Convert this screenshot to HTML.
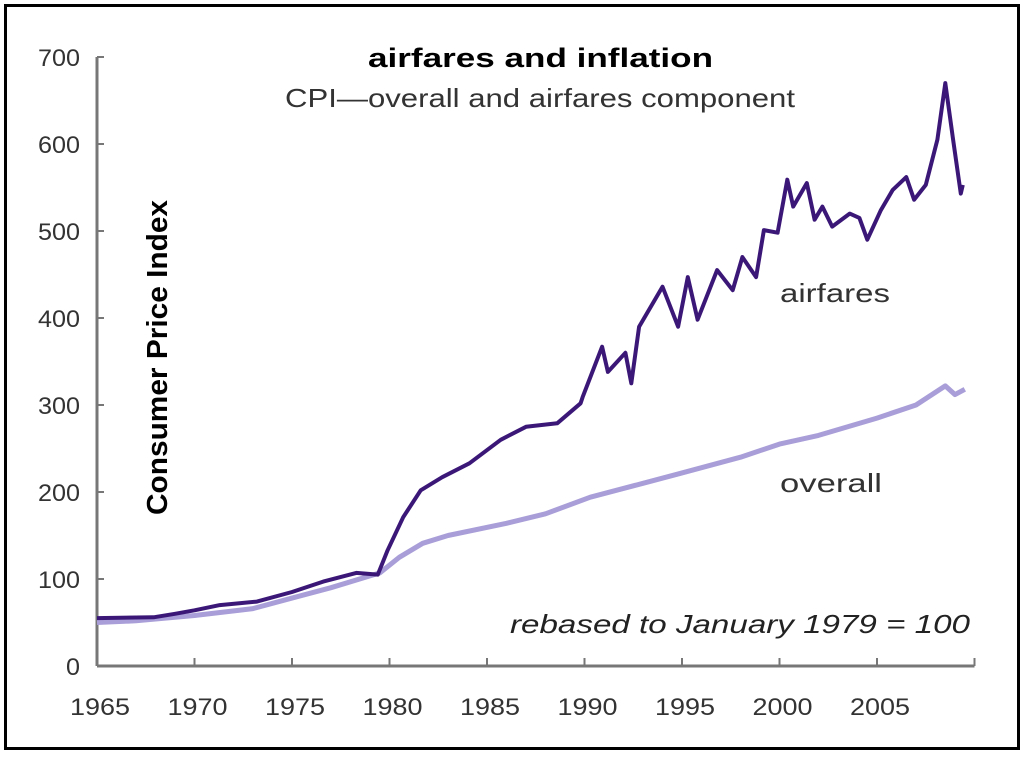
<!DOCTYPE html>
<html><head><meta charset="utf-8"><style>
body{margin:0;background:#fff;width:1024px;height:758px;overflow:hidden;font-family:"Liberation Sans",sans-serif}
#frame{position:absolute;left:4px;top:4px;width:1010px;height:740px;border:3px solid #000}
</style></head><body>
<div id="frame"></div>
<svg id="chart" width="1024" height="758" style="position:absolute;left:0;top:0">
<text x="368" y="67" textLength="345" lengthAdjust="spacingAndGlyphs" font-weight="bold" font-size="27" fill="#000">airfares and inflation</text>
<text x="285" y="107" textLength="510" lengthAdjust="spacingAndGlyphs" font-size="26" fill="#333">CPI—overall and airfares component</text>
<text transform="translate(167,515) rotate(-90)" textLength="315" lengthAdjust="spacingAndGlyphs" font-weight="bold" font-size="29" fill="#000">Consumer Price Index</text>
<text x="780" y="302" textLength="110" lengthAdjust="spacingAndGlyphs" font-size="26" fill="#333">airfares</text>
<text x="780" y="492" textLength="102" lengthAdjust="spacingAndGlyphs" font-size="26" fill="#333">overall</text>
<text x="510" y="633" textLength="460" lengthAdjust="spacingAndGlyphs" font-style="italic" font-size="26" fill="#222">rebased to January 1979 = 100</text>
<g id="axes"></g><g id="series"></g>
</svg>
<script>
const yTicks=[0,100,200,300,400,500,600,700];
const xTicks=[1965,1970,1975,1980,1985,1990,1995,2000,2005];
const airYears=[1965,1967.9,1969,1970,1971.3,1973.2,1975,1976.6,1978.3,1979.4,1979.9,1980.7,1981.6,1982.7,1984.1,1985.7,1987.0,1988.6,1989.8,1989.9,1990.9,1991.2,1992.1,1992.4,1992.8,1994.0,1994.8,1995.3,1995.8,1996.8,1997.6,1998.1,1998.8,1999.2,1999.9,2000.4,2000.7,2001.4,2001.8,2002.2,2002.7,2003.6,2004.1,2004.5,2005.2,2005.8,2006.5,2006.9,2007.5,2008.1,2008.5,2008.9,2009.3,2009.4];
const airVals=[55,56,60,64,70,74,85,97,107,105,133,171,202,217,233,260,275,279,302,309,367,338,360,325,390,436,390,447,398,455,432,470,447,501,498,559,528,555,513,528,505,520,515,490,524,547,562,536,553,605,670,605,543,553];
const allYears=[1965,1967,1970,1973,1975,1977,1979.5,1980.5,1981.7,1983,1986,1988,1990.3,1993,1995,1998,2000,2002,2005,2007,2008.5,2009,2009.5];
const allVals=[50,52,58,66,78,90,107,125,141,150,164,175,194,210,222,240,255,265,285,300,322,312,318];
const X=y=>97+(y-1965)*19.5, Y=v=>666-v*0.87;
const ns="http://www.w3.org/2000/svg";
const ax=document.getElementById('axes'), se=document.getElementById('series');
function mk(tag,attrs,parent){const e=document.createElementNS(ns,tag);for(const k in attrs)e.setAttribute(k,attrs[k]);parent.appendChild(e);return e;}
const yl=mk('line',{x1:X(1965),x2:X(1965),y1:Y(700),y2:Y(0),stroke:'#777','stroke-width':3},ax);


const xl=mk('line',{x1:X(1965),x2:X(2010),y1:Y(0),y2:Y(0),stroke:'#777','stroke-width':3},ax);


yTicks.forEach(v=>{
 mk('line',{x1:X(1965),x2:X(1965)+7,y1:Y(v),y2:Y(v),stroke:'#777','stroke-width':2},ax);
 const s=String(v);
 const t=mk('text',{x:80,y:Y(v)+9,'text-anchor':'end','font-size':24,fill:'#333',textLength:s.length*14,lengthAdjust:'spacingAndGlyphs'},ax);t.textContent=s;
 
 
});
xTicks.concat([2010]).forEach(v=>{mk('line',{x1:X(v),x2:X(v),y1:Y(0),y2:Y(0)-8,stroke:'#777','stroke-width':2},ax);});
xTicks.forEach(v=>{
 const t=mk('text',{x:X(v)+3-30,y:715,'font-size':24,fill:'#333',textLength:60,lengthAdjust:'spacingAndGlyphs'},ax);t.textContent=v;
 
 
});
function path(xs,vs){return xs.map((x,i)=>(i?'L':'M')+X(x).toFixed(1)+','+Y(vs[i]).toFixed(1)).join('');}
const p1=mk('path',{d:path(allYears,allVals),fill:'none',stroke:'#a99ed8','stroke-width':5,'stroke-linejoin':'round'},se);


const p2=mk('path',{d:path(airYears,airVals),fill:'none',stroke:'#3b1878','stroke-width':4,'stroke-linejoin':'round'},se);


</script>
</body></html>
